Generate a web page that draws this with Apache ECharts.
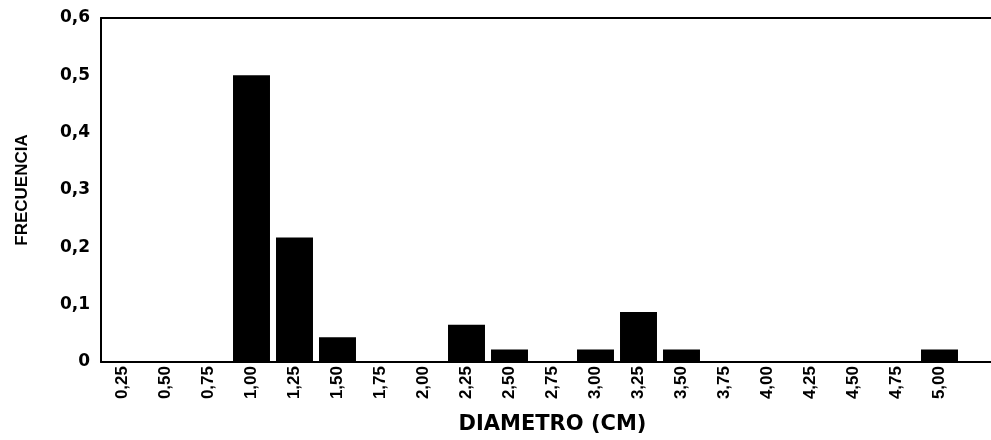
<!DOCTYPE html>
<html>
<head>
<meta charset="utf-8">
<script src="https://cdn.jsdelivr.net/npm/echarts@6/dist/echarts.min.js"></script>
<style>
  html, body { margin: 0; padding: 0; background: #fff; overflow: hidden; }
  /* plot frame runs slightly past the right edge of the window */
  #chart { width: 1004px; height: 440px; }
</style>
</head>
<body>
<div id="chart"></div>
<script>
// Diameter classes (cm); the trailing blank class leaves room past 5,00
const diameters = ['0,25', '0,50', '0,75', '1,00', '1,25', '1,50', '1,75', '2,00', '2,25', '2,50',
                   '2,75', '3,00', '3,25', '3,50', '3,75', '4,00', '4,25', '4,50', '4,75', '5,00', ''];
// Relative frequency per class
const frecuencia = [0, 0, 0, 0.5, 0.217, 0.043, 0, 0, 0.065, 0.022,
                    0, 0.022, 0.087, 0.022, 0, 0, 0, 0, 0, 0.022, 0];
const yTicks = [0, 0.1, 0.2, 0.3, 0.4, 0.5, 0.6];

const narrow = "'Liberation Sans', Arial, sans-serif";
const wide = "'DejaVu Sans', sans-serif";

const chart = echarts.init(document.getElementById('chart'), null, { renderer: 'canvas' });
chart.setOption({
  animation: false,
  backgroundColor: '#ffffff',
  grid: { left: 101, top: 18, bottom: 68, right: 0 },
  xAxis: [{
    type: 'category',
    data: diameters,
    name: 'DIAMETRO (CM)',
    nameLocation: 'middle',
    nameGap: 52,
    nameTextStyle: { fontFamily: wide, fontWeight: 'bold', fontSize: 21, color: '#000' },
    axisLine: { lineStyle: { color: '#000', width: 2 } },
    axisTick: { show: false },
    axisLabel: {
      rotate: 90, margin: 4, interval: 0,
      fontFamily: narrow, fontWeight: 'bold', fontSize: 17, color: '#000'
    },
    splitLine: { show: false }
  }, {
    // top frame line
    type: 'category',
    data: diameters,
    position: 'top',
    axisLine: { show: true, lineStyle: { color: '#000', width: 2 } },
    axisTick: { show: false },
    axisLabel: { show: false },
    splitLine: { show: false }
  }],
  yAxis: {
    type: 'value',
    min: 0, max: 0.6, interval: 0.1,
    name: 'FRECUENCIA',
    nameLocation: 'middle',
    nameGap: 70,
    nameRotate: 90,
    nameTextStyle: { fontFamily: narrow, fontWeight: 'bold', fontSize: 17, color: '#000' },
    axisLine: { show: true, lineStyle: { color: '#000', width: 2 } },
    axisTick: { show: false },
    splitLine: { show: false },
    axisLabel: {
      margin: 11,
      fontFamily: wide, fontWeight: 'bold', fontSize: 17, color: '#000',
      formatter: function (v) {
        const t = yTicks.find(function (k) { return Math.abs(k - v) < 1e-9; });
        const val = t === undefined ? v : t;
        return val === 0 ? '0' : val.toFixed(1).replace('.', ',');
      }
    }
  },
  series: [{
    type: 'bar',
    data: frecuencia,
    barCategoryGap: '14%',
    itemStyle: { color: '#000' }
  }]
});
</script>
</body>
</html>
